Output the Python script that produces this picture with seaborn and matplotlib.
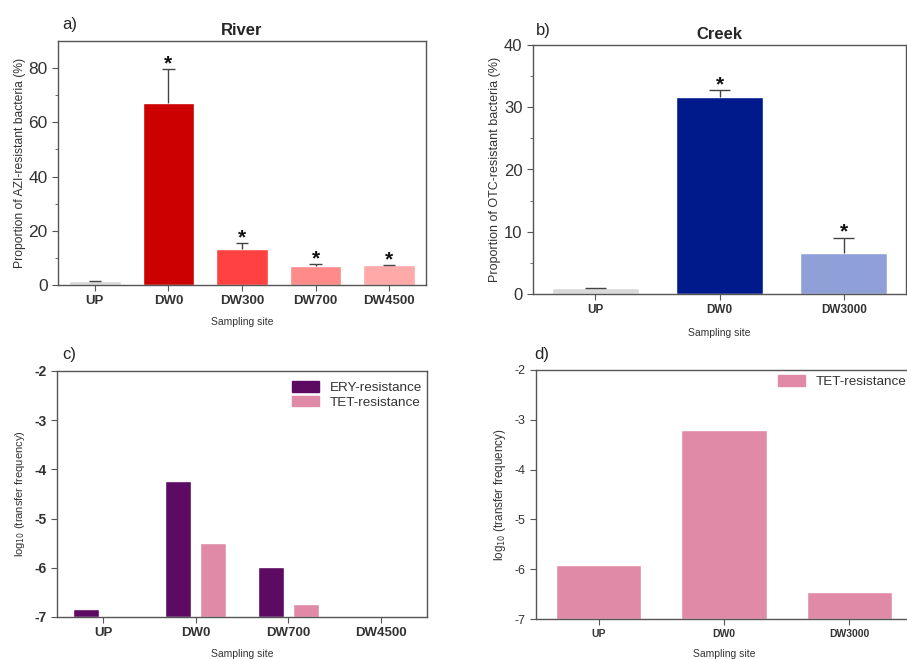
import numpy as np
import pandas as pd
import matplotlib
matplotlib.use("Agg")
import matplotlib.pyplot as plt
from matplotlib.patches import Patch
import seaborn as sns

sns.set_style("ticks")
plt.rcParams['font.family'] = ['Liberation Sans', 'DejaVu Sans']
plt.rcParams['axes.unicode_minus'] = False

# a) River, AZI-resistant bacteria (%)
river_sites = ["UP", "DW0", "DW300", "DW700", "DW4500"]
river_mean = [1.5, 67.0, 13.2, 7.1, 7.2]
river_err = [0.1, 12.5, 2.2, 0.6, 0.2]
river_star = [False, True, True, True, True]
river_colors = ["#d9d9d9", "#cc0000", "#ff4141", "#ff8a8a", "#ffa9a9"]

# b) Creek, OTC-resistant bacteria (%)
creek_sites = ["UP", "DW0", "DW3000"]
creek_mean = [0.9, 31.6, 6.6]
creek_err = [0.05, 1.1, 2.4]
creek_star = [False, True, True]
creek_colors = ["#d9d9d9", "#001a8c", "#8fa0d8"]

# c) River, log10 transfer frequency
c_sites = ["UP", "DW0", "DW700", "DW4500"]
c_ery = [-6.83, -4.23, -5.99, np.nan]
c_tet = [np.nan, -5.50, -6.74, np.nan]

# d) Creek, log10 transfer frequency
d_sites = ["UP", "DW0", "DW3000"]
d_tet = [-5.92, -3.20, -6.45]

BASE = -7
ERY_COL = "#5c0a62"
TET_COL = "#e08aa8"
SPINE = "#555555"
TXT = "#333333"

fig = plt.figure(figsize=(9.07, 6.59), dpi=100)
W, H = 907, 659


def add_ax(left, right, top, bottom):
    return fig.add_axes([left / W, 1 - bottom / H, (right - left) / W, (bottom - top) / H])


def style(ax):
    for s in ax.spines.values():
        s.set_color(SPINE)
        s.set_linewidth(1.0)
    ax.tick_params(colors=SPINE, labelcolor=TXT, direction="out", length=4)
    ax.tick_params(axis="y", which="minor", length=2.5, colors=SPINE)


def bar_panel(ax, sites, mean, err, star, colors, star_off):
    df = pd.DataFrame({"site": sites, "mean": mean})
    sns.barplot(data=df, x="site", y="mean", hue="site", order=sites,
                palette=dict(zip(sites, colors)), saturation=1, width=0.7,
                legend=False, errorbar=None, ax=ax)
    # upper-only error bars (line + top cap)
    x = np.arange(len(sites))
    top = np.array(mean) + np.array(err)
    ax.vlines(x, mean, top, color="#444444", lw=1)
    ax.hlines(top, x - 0.085, x + 0.085, color="#444444", lw=1)
    for i, (t, s) in enumerate(zip(top, star)):
        if s:
            ax.text(i, t + star_off, "*", ha="center", va="center",
                    fontsize=15, fontweight="bold", color="#111111")


def legend(ax, labels, colors, anchor):
    handles = [Patch(facecolor=c, edgecolor=c, label=l) for l, c in zip(labels, colors)]
    ax.legend(handles=handles, loc="upper left", bbox_to_anchor=anchor,
              frameon=False, fontsize=9.7, handlelength=2.0, handleheight=0.8,
              labelcolor=TXT, labelspacing=0.12, borderaxespad=0, handletextpad=0.8)


# ---- a)
ax = add_ax(58, 426, 41, 285)
bar_panel(ax, river_sites, river_mean, river_err, river_star, river_colors, 2.0)
ax.set_ylim(0, 90)
ax.set_xlim(-0.5, 4.5)
ax.set_yticks([0, 20, 40, 60, 80])
ax.set_yticks(np.arange(10, 90, 20), minor=True)
style(ax)
ax.tick_params(axis="y", labelsize=12.5)
ax.tick_params(axis="x", labelsize=9.5)
for lbl in ax.get_xticklabels():
    lbl.set_fontweight("bold")
ax.set_ylabel("Proportion of AZI-resistant bacteria (%)", fontsize=8.7, color=TXT, labelpad=2)
ax.set_xlabel("Sampling site", fontsize=7.5, color=TXT, labelpad=7)
ax.set_title("River", fontsize=12, fontweight="bold", pad=4)
fig.text(62 / W, 1 - 24 / H, "a)", fontsize=12, va="center", ha="left")

# ---- b)
ax = add_ax(533, 906, 45, 294)
bar_panel(ax, creek_sites, creek_mean, creek_err, creek_star, creek_colors, 0.9)
ax.set_ylim(0, 40)
ax.set_xlim(-0.5, 2.5)
ax.set_yticks([0, 10, 20, 30, 40])
ax.set_yticks(np.arange(5, 40, 10), minor=True)
style(ax)
ax.tick_params(axis="y", labelsize=12)
ax.tick_params(axis="x", labelsize=8.5)
for lbl in ax.get_xticklabels():
    lbl.set_fontweight("bold")
ax.set_ylabel("Proportion of OTC-resistant bacteria (%)", fontsize=9, color=TXT, labelpad=2)
ax.set_xlabel("Sampling site", fontsize=7.5, color=TXT, labelpad=8)
ax.set_title("Creek", fontsize=12, fontweight="bold", pad=4)
fig.text(536 / W, 1 - 30 / H, "b)", fontsize=12, va="center", ha="left")

# ---- c)
ax = add_ax(57, 427, 371, 617)
dfc = pd.DataFrame({
    "site": c_sites * 2,
    "series": ["ERY-resistance"] * len(c_sites) + ["TET-resistance"] * len(c_sites),
    "value": c_ery + c_tet,
})
dfc["height"] = dfc["value"] - BASE
sns.barplot(data=dfc, x="site", y="height", hue="series", order=c_sites,
            palette={"ERY-resistance": ERY_COL, "TET-resistance": TET_COL},
            saturation=1, width=0.75, gap=0.25, errorbar=None, bottom=BASE,
            legend=False, ax=ax)
ax.set_ylim(-7, -2)
ax.set_xlim(-0.5, 3.5)
ax.set_yticks([-7, -6, -5, -4, -3, -2])
style(ax)
ax.tick_params(axis="y", labelsize=10)
ax.tick_params(axis="x", labelsize=9.5)
for lbl in ax.get_xticklabels() + ax.get_yticklabels():
    lbl.set_fontweight("bold")
legend(ax, ["ERY-resistance", "TET-resistance"], [ERY_COL, TET_COL], (0.62, 0.98))
ax.set_ylabel("log$_{10}$ (transfer frequency)", fontsize=8, color=TXT, labelpad=5)
ax.set_xlabel("Sampling site", fontsize=7.5, color=TXT, labelpad=7)
fig.text(62 / W, 1 - 355 / H, "c)", fontsize=12, va="center", ha="left")

# ---- d)
ax = add_ax(536, 912, 370, 619)
dfd = pd.DataFrame({"site": d_sites, "series": "TET-resistance", "value": d_tet})
dfd["height"] = dfd["value"] - BASE
sns.barplot(data=dfd, x="site", y="height", hue="series", order=d_sites,
            palette={"TET-resistance": TET_COL}, saturation=1, width=0.68,
            errorbar=None, bottom=BASE, legend=False, ax=ax)
ax.set_ylim(-7, -2)
ax.set_xlim(-0.5, 2.5)
ax.set_yticks([-7, -6, -5, -4, -3, -2])
style(ax)
ax.tick_params(axis="y", labelsize=9)
ax.tick_params(axis="x", labelsize=7.5)
for lbl in ax.get_xticklabels():
    lbl.set_fontweight("bold")
legend(ax, ["TET-resistance"], [TET_COL], (0.63, 1.0))
ax.set_ylabel("log$_{10}$ (transfer frequency)", fontsize=8.4, color=TXT, labelpad=5)
ax.set_xlabel("Sampling site", fontsize=7.5, color=TXT, labelpad=7)
fig.text(534 / W, 1 - 355 / H, "d)", fontsize=12, va="center", ha="left")

fig.savefig("out.png", dpi=100, facecolor="white")
